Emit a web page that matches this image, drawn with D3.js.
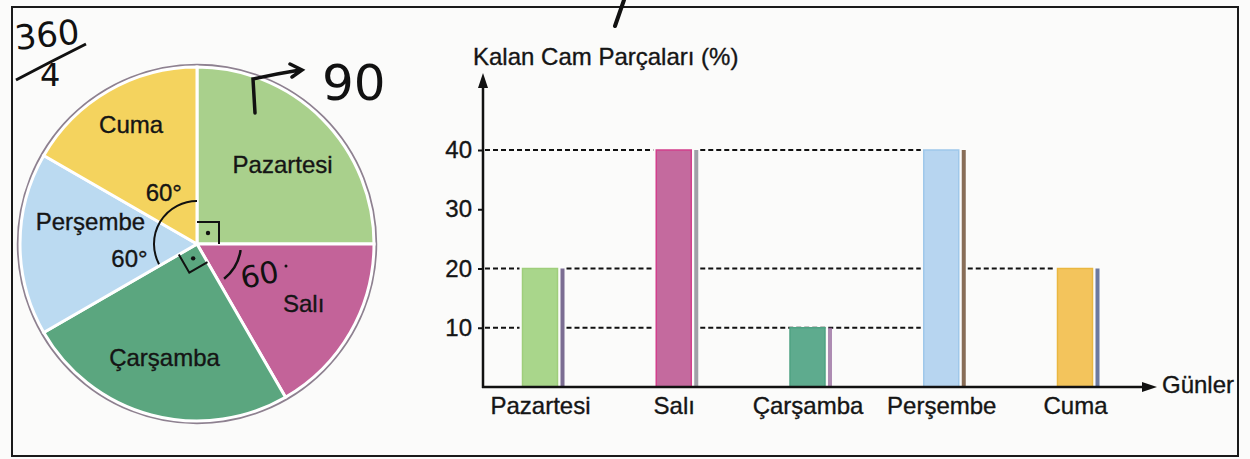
<!DOCTYPE html>
<html>
<head>
<meta charset="utf-8">
<script src="https://cdn.jsdelivr.net/npm/d3@7"></script>
<style>
  html, body { margin: 0; padding: 0; background: #fbfbfa; }
  svg { display: block; }
  text { font-family: "Liberation Sans", Arial, sans-serif; fill: #151515; stroke: #151515; stroke-width: 0.35px; }
  .hand { font-family: "DejaVu Sans", sans-serif; fill: #111; stroke: none; }
</style>
</head>
<body>
<svg id="chart" width="1250" height="459"></svg>
<script>
// days, in the order they are drawn
const days = ['Pazartesi', 'Salı', 'Çarşamba', 'Perşembe', 'Cuma']
// pie slice angles (degrees), same order
const pieAngles = [90, 60, 90, 60, 60]
// remaining glass pieces (%) per day
const remaining = [20, 40, 10, 40, 20]
const yTicks = [10, 20, 30, 40]
// dashed guide lines: value, from day (null = axis), to day
const guides = [
  [40, null, 'Salı'], [40, 'Salı', 'Perşembe'],
  [20, null, 'Pazartesi'], [20, 'Pazartesi', 'Salı'], [20, 'Salı', 'Perşembe'], [20, 'Perşembe', 'Cuma'],
  [10, null, 'Pazartesi'], [10, 'Pazartesi', 'Salı'], [10, 'Salı', 'Perşembe']
]

const pieColor = d3.scaleOrdinal().domain(days)
  .range(['#a9d08c', '#c36399', '#5ba67f', '#bbdaf1', '#f4d35e'])
const barColor = d3.scaleOrdinal().domain(days)
  .range(['#a9d68b', '#c46a9e', '#5eab8e', '#b7d5f0', '#f3c45c'])
const barEdge = d3.scaleOrdinal().domain(days)
  .range(['#9fce7b', '#d23f8c', '#4fa283', '#9fc8ea', '#eab740'])
const barShadow = d3.scaleOrdinal().domain(days)
  .range(['#5b4a78', '#8a8a94', '#9a6fa0', '#6b4a2e', '#4a5a8a'])

let svg = d3.select('#chart')
const rad = Math.PI / 180
const fs = 24

// page frame
svg.append('rect')
  .attr('x', 12).attr('y', 7).attr('width', 1226).attr('height', 449)
  .attr('fill', 'none').attr('stroke', '#1a1a1a').attr('stroke-width', 2)

// ---------- pie ----------
const cx = 197, cy = 244, R = 177
let pg = svg.append('g').attr('transform', `translate(${cx},${cy})`)

let slices = d3.pie().sort(null).value(d => d.a)(days.map((d, i) => ({day: d, a: pieAngles[i]})))
let arc = d3.arc().innerRadius(0).outerRadius(R)

pg.append('circle').attr('r', R + 1.5)
  .attr('fill', 'none').attr('stroke', '#8e8190').attr('stroke-width', 3.5)

pg.selectAll('path.slice').data(slices).join('path')
  .attr('class', 'slice')
  .attr('d', arc)
  .attr('fill', d => pieColor(d.data.day))
  .attr('stroke', '#fff').attr('stroke-width', 3)

// slice labels
const labelR = {Pazartesi: 117, 'Salı': 122, 'Çarşamba': 118, 'Perşembe': 109, Cuma: 136}
const labelTurn = {Pazartesi: 2, 'Salı': -1, 'Çarşamba': 1, 'Perşembe': 12, Cuma: 1}
pg.selectAll('text.slabel').data(slices).join('text')
  .attr('class', 'slabel')
  .attr('font-size', fs)
  .attr('text-anchor', 'middle')
  .attr('dy', '0.35em')
  .attr('x', d => {
    let a = (d.startAngle + d.endAngle) / 2 + labelTurn[d.data.day] * rad
    return labelR[d.data.day] * Math.sin(a)
  })
  .attr('y', d => {
    let a = (d.startAngle + d.endAngle) / 2 + labelTurn[d.data.day] * rad
    return -labelR[d.data.day] * Math.cos(a)
  })
  .text(d => d.data.day)

// printed angle marks
pg.append('path')
  .attr('d', d3.arc().innerRadius(43).outerRadius(43).startAngle(242 * rad).endAngle(360 * rad)())
  .attr('fill', 'none').attr('stroke', '#111').attr('stroke-width', 2)

const degLabels = [[327, 61], [258, 69]]
pg.selectAll('text.deg').data(degLabels).join('text')
  .attr('class', 'deg')
  .attr('font-size', fs)
  .attr('text-anchor', 'middle')
  .attr('dy', '0.35em')
  .attr('x', d => d[1] * Math.sin(d[0] * rad))
  .attr('y', d => -d[1] * Math.cos(d[0] * rad))
  .text('60°')

// right angle squares (Pazartesi, Çarşamba)
function rightAngle(a0, s) {
  let u = [Math.sin(a0 * rad), -Math.cos(a0 * rad)]
  let v = [Math.sin((a0 + 90) * rad), -Math.cos((a0 + 90) * rad)]
  let p1 = [u[0] * s, u[1] * s], p3 = [v[0] * s, v[1] * s]
  let p2 = [p1[0] + p3[0], p1[1] + p3[1]]
  pg.append('path')
    .attr('d', `M${p1}L${p2}L${p3}`)
    .attr('fill', 'none').attr('stroke', '#111').attr('stroke-width', 2)
  pg.append('circle').attr('cx', p2[0] / 2).attr('cy', p2[1] / 2).attr('r', 2.2).attr('fill', '#111')
}
rightAngle(0, 22)
rightAngle(150, 21)

// ---------- bar chart ----------
const x0 = 483, yBase = 387
let x = d3.scalePoint().domain(days).range([540, 1075])
let y = d3.scaleLinear().domain([0, 40]).range([yBase, 150])
const bw = 35

let bg = svg.append('g')

// dashed guides
bg.selectAll('line.guide').data(guides).join('line')
  .attr('class', 'guide')
  .attr('x1', d => d[1] == null ? x0 + 2 : x(d[1]) + bw / 2 + 9)
  .attr('x2', d => x(d[2]) - bw / 2 - 3)
  .attr('y1', d => y(d[0])).attr('y2', d => y(d[0]))
  .attr('stroke', '#111').attr('stroke-width', 2.2).attr('stroke-dasharray', '5,3')

// bars with their printed shadow strip
bg.selectAll('rect.shadow').data(days).join('rect')
  .attr('class', 'shadow')
  .attr('x', d => x(d) + bw / 2 + 3)
  .attr('width', 4)
  .attr('y', (d, i) => y(remaining[i]))
  .attr('height', (d, i) => yBase - y(remaining[i]))
  .attr('fill', d => barShadow(d)).attr('opacity', 0.8)

bg.selectAll('rect.bar').data(days).join('rect')
  .attr('class', 'bar')
  .attr('x', d => x(d) - bw / 2)
  .attr('width', bw)
  .attr('y', (d, i) => y(remaining[i]))
  .attr('height', (d, i) => yBase - y(remaining[i]))
  .attr('fill', d => barColor(d))
  .attr('stroke', d => barEdge(d)).attr('stroke-width', 1.5)

// axes
let yAxis = bg.append('g').attr('transform', `translate(${x0},0)`)
  .call(d3.axisLeft(y).tickValues(yTicks).tickSize(5).tickPadding(6))
yAxis.select('.domain').remove()
yAxis.selectAll('line').attr('stroke', '#111').attr('stroke-width', 2)
yAxis.selectAll('text').attr('font-size', fs).attr('font-family', null).attr('fill', '#151515')

let xAxis = bg.append('g').attr('transform', `translate(0,${yBase})`)
  .call(d3.axisBottom(x).tickSize(0).tickPadding(10))
xAxis.select('.domain').remove()
xAxis.selectAll('text').attr('font-size', fs).attr('font-family', null).attr('fill', '#151515')

bg.append('line').attr('x1', x0).attr('x2', x0).attr('y1', yBase + 1).attr('y2', 84)
  .attr('stroke', '#111').attr('stroke-width', 2.5)
bg.append('path').attr('d', `M${x0},73L${x0 - 5},88L${x0 + 5},88Z`).attr('fill', '#111')
bg.append('line').attr('x1', x0 - 1).attr('x2', 1146).attr('y1', yBase).attr('y2', yBase)
  .attr('stroke', '#111').attr('stroke-width', 2.5)
bg.append('path').attr('d', `M1157,${yBase}L1142,${yBase - 5}L1142,${yBase + 5}Z`).attr('fill', '#111')

bg.append('text').attr('x', 473).attr('y', 65).attr('font-size', fs).text('Kalan Cam Parçaları (%)')
bg.append('text').attr('x', 1162).attr('y', 393).attr('font-size', fs).text('Günler')

// ---------- handwritten notes ----------
let hw = svg.append('g')
hw.append('text').attr('class', 'hand').attr('x', 16).attr('y', 50).attr('font-size', 34)
  .attr('transform', 'rotate(-6,16,50)').text('360')
hw.append('path').attr('d', 'M16,80Q50,62 86,44').attr('fill', 'none').attr('stroke', '#111').attr('stroke-width', 3)
hw.append('text').attr('class', 'hand').attr('x', 40).attr('y', 86).attr('font-size', 32).text('4')
hw.append('path').attr('d', 'M255,113L253,79Q275,74 300,70M290,64L302,70L292,77')
  .attr('fill', 'none').attr('stroke', '#111').attr('stroke-width', 3.5).attr('stroke-linecap', 'round')
hw.append('text').attr('class', 'hand').attr('x', 322).attr('y', 100).attr('font-size', 50).text('90')
hw.append('path').attr('d', d3.arc().innerRadius(44).outerRadius(44).startAngle(98 * rad).endAngle(142 * rad)())
  .attr('transform', `translate(${cx},${cy})`)
  .attr('fill', 'none').attr('stroke', '#111').attr('stroke-width', 2.5)
hw.append('text').attr('class', 'hand').attr('x', 243).attr('y', 289).attr('font-size', 30)
  .attr('transform', 'rotate(-12,243,289)').text('60')
hw.append('circle').attr('cx', 286).attr('cy', 266).attr('r', 1.5).attr('fill', '#111')
hw.append('path').attr('d', 'M624,0L615,26').attr('stroke', '#111').attr('stroke-width', 4).attr('stroke-linecap', 'round')
</script>
</body>
</html>
